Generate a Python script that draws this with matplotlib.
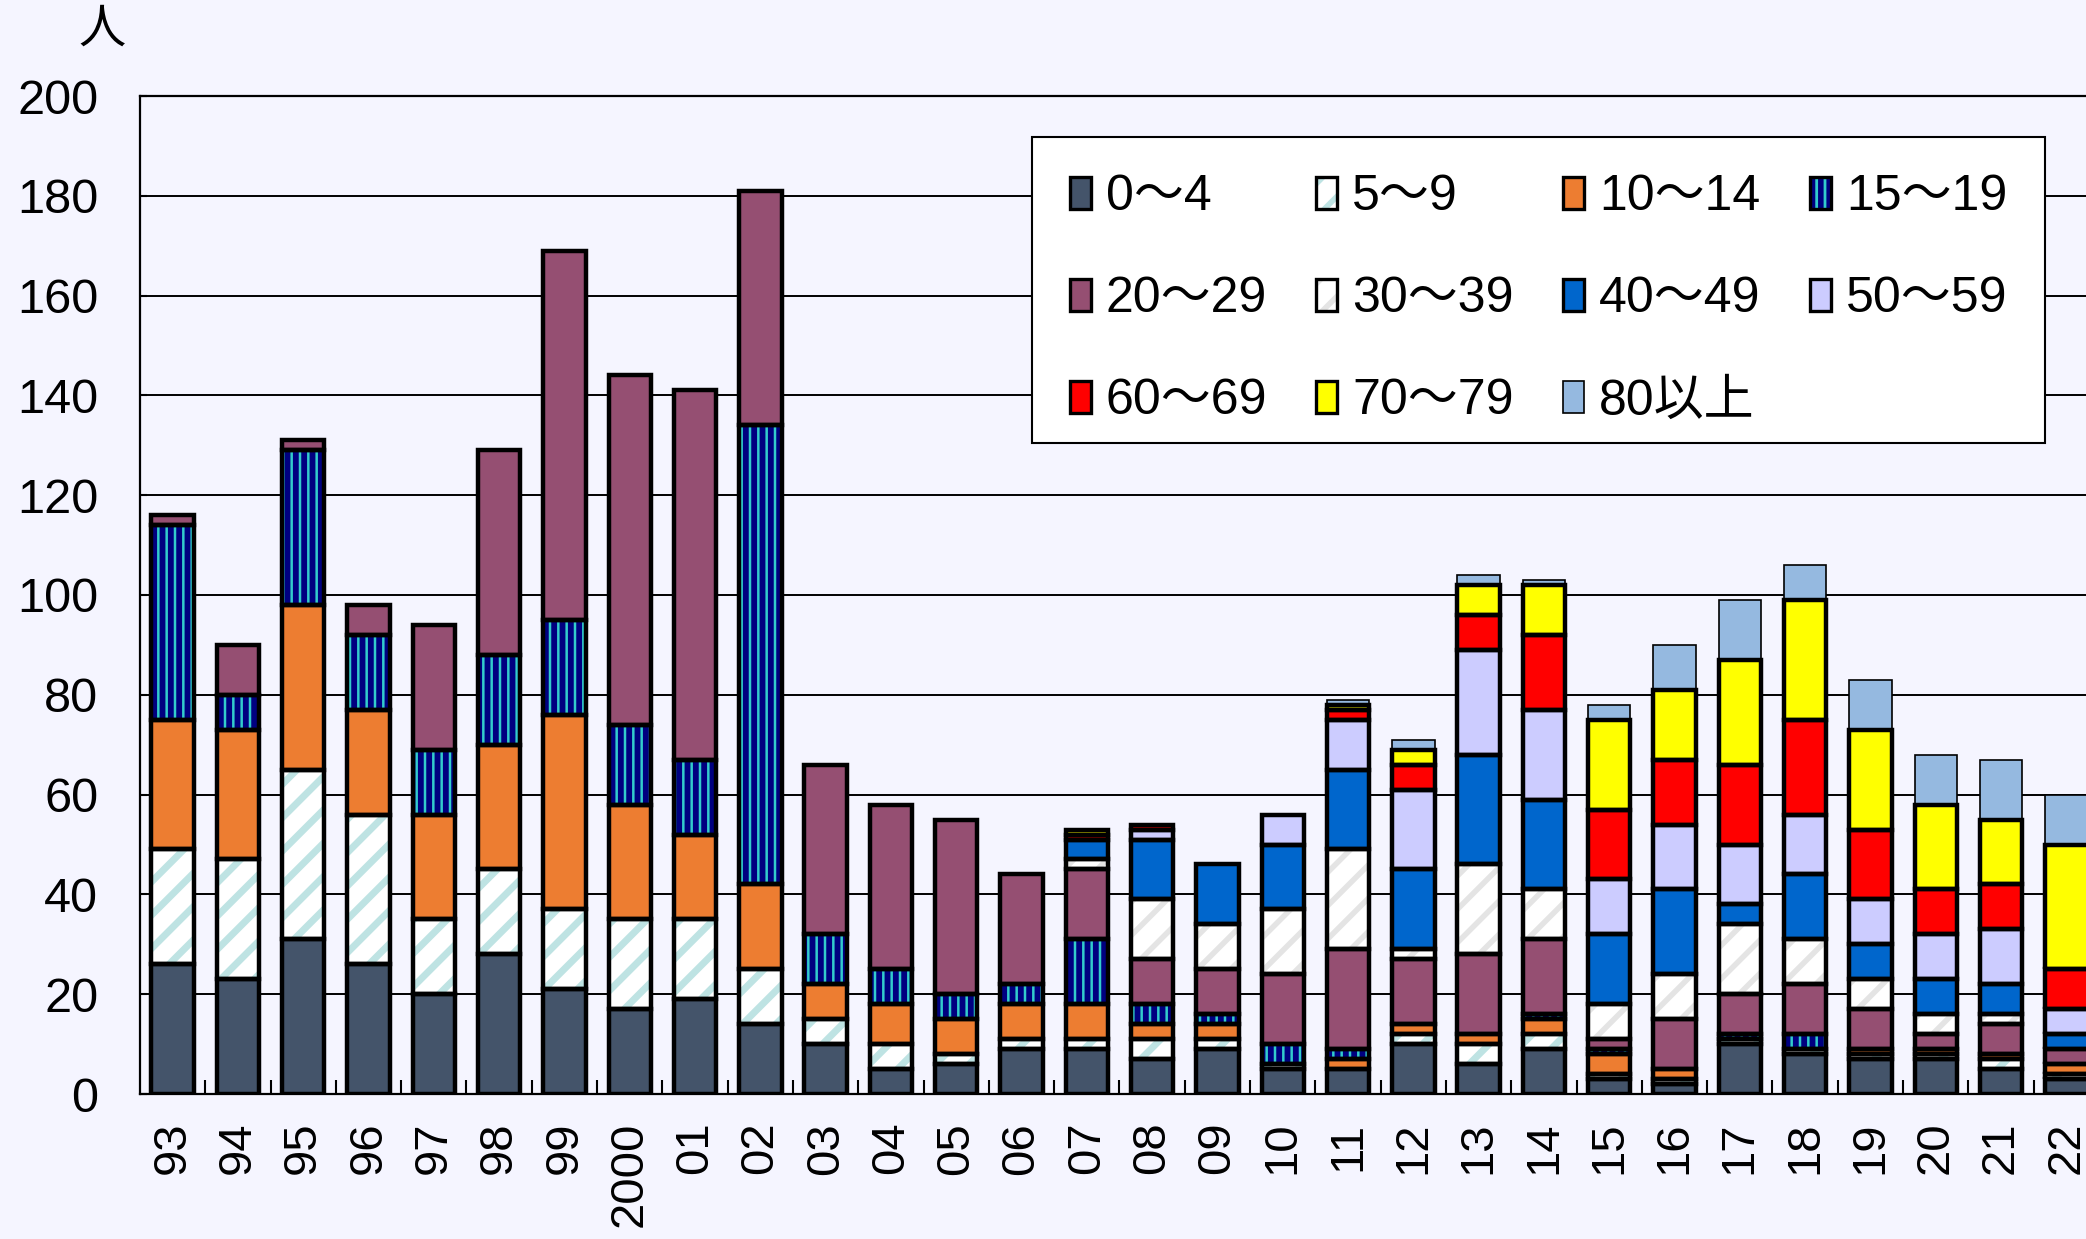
import numpy as np
import matplotlib.pyplot as plt
from matplotlib.patches import Patch, Rectangle
from matplotlib.legend_handler import HandlerTuple

plt.rcParams['font.family'] = ['Liberation Sans', 'Noto Sans CJK JP']
plt.rcParams['hatch.linewidth'] = 4.0

# Year labels (heisei/reiwa style short years)
years = ['93', '94', '95', '96', '97', '98', '99', '2000', '01', '02', '03', '04', '05', '06', '07',
         '08', '09', '10', '11', '12', '13', '14', '15', '16', '17', '18', '19', '20', '21', '22']

# Persons per age group and year
age_0_4 = [26, 23, 31, 26, 20, 28, 21, 17, 19, 14, 10, 5, 6, 9, 9, 7, 9, 5, 5, 10, 6, 9, 3, 2, 10, 8, 7, 7, 5, 3]
age_5_9 = [23, 24, 34, 30, 15, 17, 16, 18, 16, 11, 5, 5, 2, 2, 2, 4, 2, 1, 0, 2, 4, 3, 1, 1, 1, 1, 1, 1, 2, 1]
age_10_14 = [26, 26, 33, 21, 21, 25, 39, 23, 17, 17, 7, 8, 7, 7, 7, 3, 3, 0, 2, 2, 2, 3, 4, 2, 0, 0, 1, 1, 1, 2]
age_15_19 = [39, 7, 31, 15, 13, 18, 19, 16, 15, 92, 10, 7, 5, 4, 13, 4, 2, 4, 2, 0, 0, 1, 1, 0, 1, 3, 0, 0, 0, 0]
age_20_29 = [2, 10, 2, 6, 25, 41, 74, 70, 74, 47, 34, 33, 35, 22, 14, 9, 9, 14, 20, 13, 16, 15, 2, 10, 8, 10, 8, 3, 6, 3]
age_30_39 = [0, 0, 0, 0, 0, 0, 0, 0, 0, 0, 0, 0, 0, 0, 2, 12, 9, 13, 20, 2, 18, 10, 7, 9, 14, 9, 6, 4, 2, 0]
age_40_49 = [0, 0, 0, 0, 0, 0, 0, 0, 0, 0, 0, 0, 0, 0, 4, 12, 12, 13, 16, 16, 22, 18, 14, 17, 4, 13, 7, 7, 6, 3]
age_50_59 = [0, 0, 0, 0, 0, 0, 0, 0, 0, 0, 0, 0, 0, 0, 0, 2, 0, 6, 10, 16, 21, 18, 11, 13, 12, 12, 9, 9, 11, 5]
age_60_69 = [0, 0, 0, 0, 0, 0, 0, 0, 0, 0, 0, 0, 0, 0, 1, 1, 0, 0, 2, 5, 7, 15, 14, 13, 16, 19, 14, 9, 9, 8]
age_70_79 = [0, 0, 0, 0, 0, 0, 0, 0, 0, 0, 0, 0, 0, 0, 1, 0, 0, 0, 1, 3, 6, 10, 18, 14, 21, 24, 20, 17, 13, 25]
age_80 = [0, 0, 0, 0, 0, 0, 0, 0, 0, 0, 0, 0, 0, 0, 0, 0, 0, 0, 1, 2, 2, 1, 3, 9, 12, 7, 10, 10, 12, 10]

bg = '#F5F5FF'

# name, values, face colour, hatch, hatch colour, hatch width, edge width
series = [
    ('0～4', age_0_4, '#44546A', None, '#44546A', 4.0, 3.2),
    ('5～9', age_5_9, 'white', '/', '#BEE3E3', 5.0, 3.2),
    ('10～14', age_10_14, '#ED7D31', None, '#ED7D31', 4.0, 3.2),
    ('15～19', age_15_19, '#33CCCC', '||', '#000080', 4.2, 3.2),
    ('20～29', age_20_29, '#954F72', None, '#954F72', 4.0, 3.2),
    ('30～39', age_30_39, 'white', '/', '#E4E4E4', 4.0, 3.2),
    ('40～49', age_40_49, '#0066CC', None, '#0066CC', 4.0, 3.2),
    ('50～59', age_50_59, '#CCCCFF', None, '#CCCCFF', 4.0, 3.2),
    ('60～69', age_60_69, '#FF0000', None, '#FF0000', 4.0, 3.2),
    ('70～79', age_70_79, '#FFFF00', None, '#FFFF00', 4.0, 3.2),
    ('80以上', age_80, '#95B9E0', None, '#95B9E0', 4.0, 1.2),
]

fig = plt.figure(figsize=(20.86, 12.39), dpi=100, facecolor=bg)
ax = fig.add_axes([140 / 2086, 145 / 1239, 1959 / 2086, 998 / 1239], facecolor=bg)

x = np.arange(len(years))

# fills first, outlines on top so segment borders are not half covered
bottoms = []
bottom = np.zeros(len(years))
fill_handles = []
for name, vals, face, hatch, hcol, hlw, lw in series:
    vals = np.array(vals, dtype=float)
    m = vals > 0
    with plt.rc_context({'hatch.linewidth': hlw}):
        ax.bar(x[m], vals[m], bottom=bottom[m], width=0.65, color=face, hatch=hatch,
               edgecolor=hcol, linewidth=0, zorder=3)
        fill_handles.append(Patch(facecolor=face, hatch=hatch, edgecolor=hcol, linewidth=0))
    bottoms.append(bottom.copy())
    bottom += vals

handles = []
for (name, vals, face, hatch, hcol, hlw, lw), b, fh in zip(series, bottoms, fill_handles):
    vals = np.array(vals, dtype=float)
    m = vals > 0
    ax.bar(x[m], vals[m], bottom=b[m], width=0.65, fill=False,
           edgecolor='black', linewidth=lw, zorder=4)
    handles.append((fh, Patch(fill=False, edgecolor='black', linewidth=min(lw, 2.4))))

ax.set_xlim(-0.5, 29.5)
ax.set_ylim(0, 200)
ax.set_yticks(np.arange(0, 201, 20))
ax.yaxis.grid(True, color='black', linewidth=1.4, zorder=0)
ax.set_axisbelow(True)

ax.set_xticks(x)
ax.set_xticklabels(years, rotation=90, fontsize=34)
ax.set_xticks(x[:-1] + 0.5, minor=True)
ax.tick_params(axis='x', which='major', length=0, pad=20)
ax.tick_params(axis='x', which='minor', direction='in', length=10, width=1.5)
ax.tick_params(axis='y', direction='in', length=5, width=1.5, labelsize=35, pad=30)

for side in ['left', 'bottom', 'top']:
    ax.spines[side].set_linewidth(1.6)
ax.spines['right'].set_visible(False)

fig.text(102 / 2086, 1 - 31 / 1239, '人', ha='center', va='center', fontsize=34)

# legend box
box = Rectangle((1032 / 2086, 1 - 443 / 1239), 1013 / 2086, 306 / 1239, transform=fig.transFigure,
                facecolor='white', edgecolor='black', linewidth=1.5, zorder=4.5, clip_on=False)
ax.add_patch(box)

# legend laid out row by row: 4 columns, 3 rows
order = [0, 4, 8, 1, 5, 9, 2, 6, 10, 3, 7]
leg = ax.legend([handles[i] for i in order], [series[i][0] for i in order],
                handler_map={tuple: HandlerTuple(ndivide=1)},
                ncol=4, loc='upper left', mode='expand',
                bbox_to_anchor=(1032 / 2086, 1 - 137 / 1239, 1013 / 2086, 0),
                bbox_transform=fig.transFigure,
                fontsize=36, handlelength=0.42, handleheight=0.62, handletextpad=0.3,
                labelspacing=1.12, borderpad=0.75, borderaxespad=0, frameon=False)
leg.set_zorder(5)

fig.savefig('out.png', dpi=100, facecolor=bg)
